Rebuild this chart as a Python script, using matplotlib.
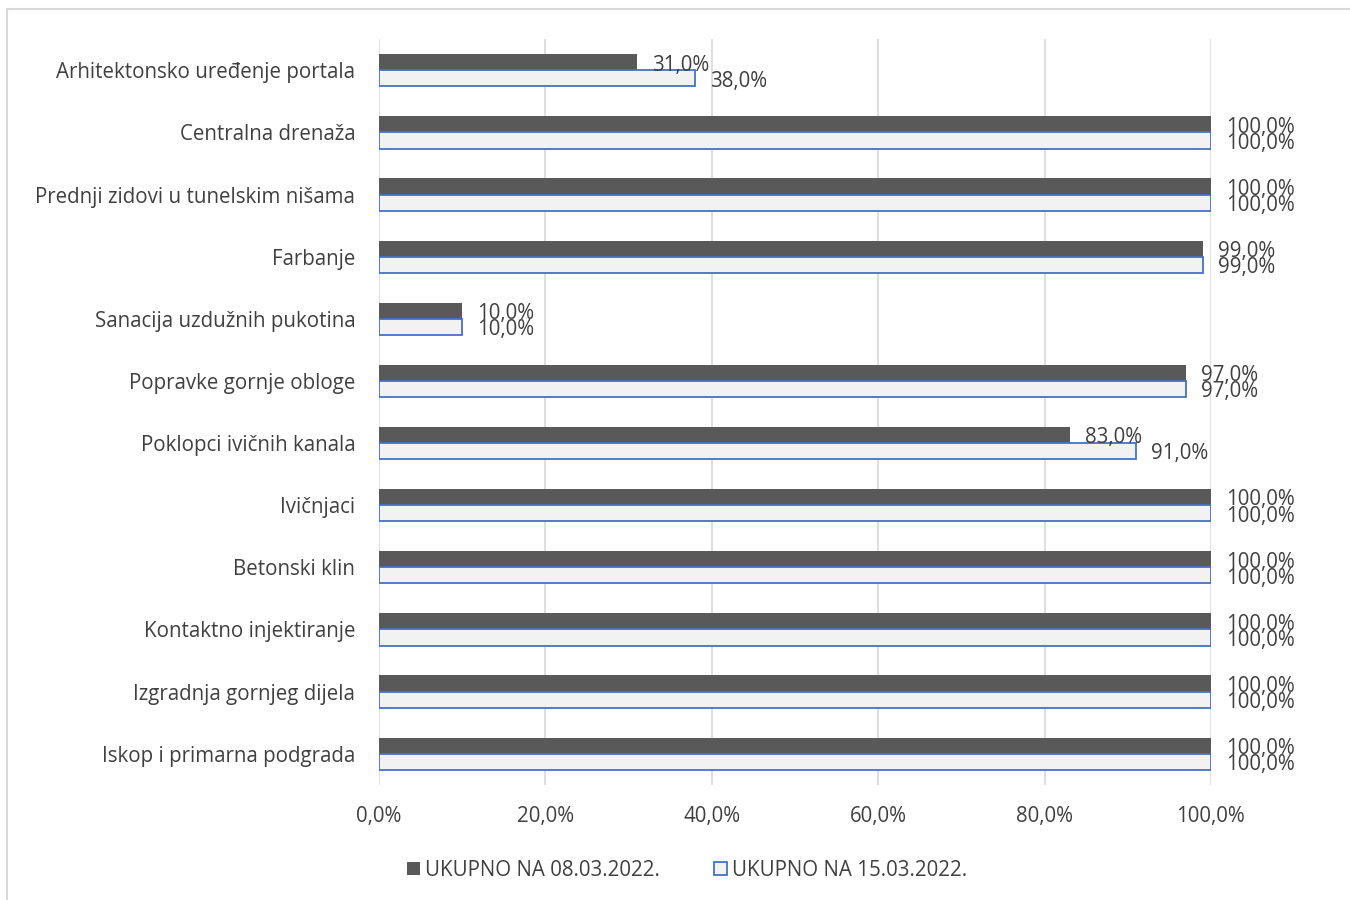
import matplotlib.pyplot as plt
import numpy as np
from matplotlib.patches import Rectangle

plt.rcParams['font.family'] = ['Open Sans', 'DejaVu Sans']

categories = ["Arhitektonsko uređenje portala", "Centralna drenaža",
              "Prednji zidovi u tunelskim nišama", "Farbanje",
              "Sanacija uzdužnih pukotina", "Popravke gornje obloge",
              "Poklopci ivičnih kanala", "Ivičnjaci", "Betonski klin",
              "Kontaktno injektiranje", "Izgradnja gornjeg dijela",
              "Iskop i primarna podgrada"]
week1 = [31, 100, 100, 99, 10, 97, 83, 100, 100, 100, 100, 100]
week2 = [38, 100, 100, 99, 10, 97, 91, 100, 100, 100, 100, 100]
series_names = ["UKUPNO NA 08.03.2022.", "UKUPNO NA 15.03.2022."]
xticks = [0, 20, 40, 60, 80, 100]

txt = '#404040'
fs = 14.8
fig = plt.figure(figsize=(13.5, 9), dpi=100)
ax = fig.add_axes([0.2807, 0.128, 0.6163, 0.8284])

y = np.arange(len(categories))
h = 0.26
ax.barh(y - h / 2, week1, height=h, color='#595959', zorder=3, label=series_names[0])
ax.barh(y + h / 2, week2, height=h, color='#f2f2f2', edgecolor='#4472c4',
        linewidth=1.3, zorder=3, label=series_names[1])

# value labels, shifted a little down like in the original
for i in range(len(categories)):
    ax.annotate(f"{week1[i]:.1f}%".replace('.', ','), (week1[i], y[i] - h / 2),
                xytext=(11, -2), textcoords='offset points', va='center',
                fontsize=fs, color=txt)
    ax.annotate(f"{week2[i]:.1f}%".replace('.', ','), (week2[i], y[i] + h / 2),
                xytext=(11, -2), textcoords='offset points', va='center',
                fontsize=fs, color=txt)

ax.set_ylim(len(categories) - 0.5, -0.5)
ax.set_xlim(0, 100)
ax.set_yticks(y)
ax.set_yticklabels(categories, fontsize=fs, color=txt)
ax.set_xticks(xticks)
ax.set_xticklabels([f"{v:.1f}%".replace('.', ',') for v in xticks], fontsize=fs, color=txt)
ax.tick_params(length=0, pad=17)
ax.tick_params(axis='x', pad=15)
ax.grid(axis='x', color='#d9d9d9', linewidth=1.2, zorder=0)
for s in ax.spines.values():
    s.set_visible(False)

fig.legend(loc='center', bbox_to_anchor=(0.509, 0.033), ncol=2, frameon=False,
           fontsize=fs, handlelength=0.65, handleheight=0.65, handletextpad=0.25,
           columnspacing=2.6, labelcolor=txt)

fig.patches.append(Rectangle((7 / 1350, -0.01), 1.1, 1 - 9 / 900 + 0.01,
                             transform=fig.transFigure, fill=False,
                             edgecolor='#d9d9d9', linewidth=1.5))

fig.savefig('out.png', dpi=100)
